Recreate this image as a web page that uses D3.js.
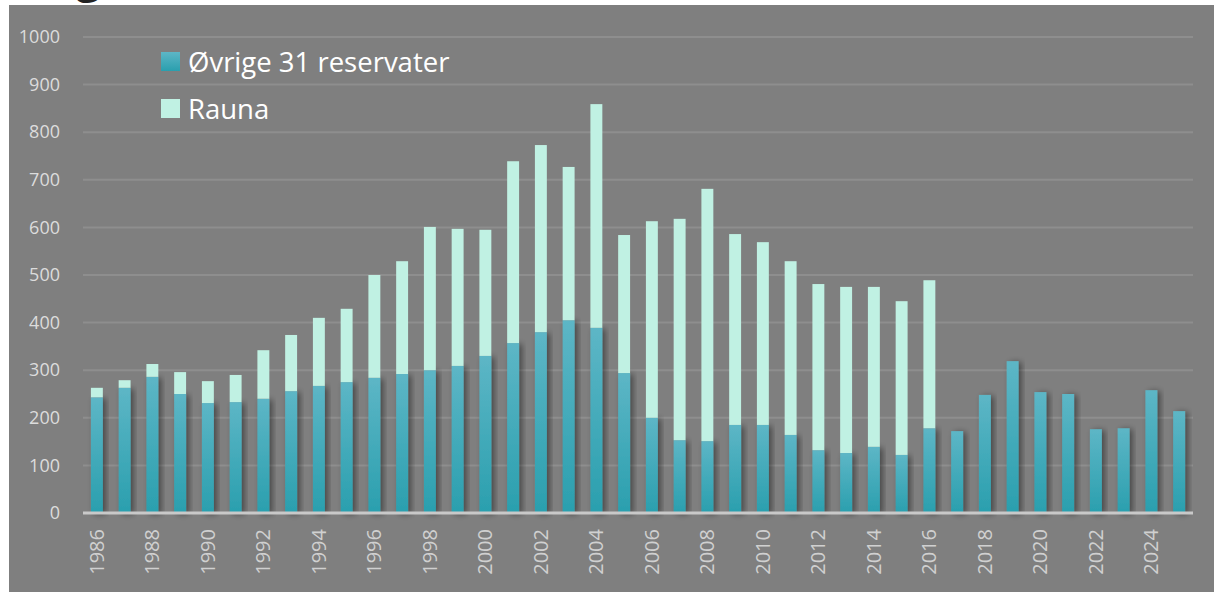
<!DOCTYPE html>
<html>
<head>
<meta charset="utf-8">
<script src="https://cdn.jsdelivr.net/npm/d3@7"></script>
<style>
  body { margin: 0; background: #fff; }
  svg { display: block; }
</style>
</head>
<body>
<svg id="chart" width="1214" height="592"></svg>
<script>
// years on the x axis
var years = d3.range(1986, 2026);

// lower stack: the other 31 reserves
var ovrige = [243, 263, 286, 250, 231, 233, 240, 256, 267, 275,
  284, 292, 300, 309, 330, 357, 380, 405, 389, 294,
  200, 153, 151, 185, 185, 164, 132, 126, 139, 122,
  178, 172, 248, 319, 254, 250, 176, 178, 258, 214];

// upper stack: Rauna (read as totals minus lower stack)
var totals = [263, 279, 313, 296, 277, 290, 342, 374, 410, 429,
  500, 529, 601, 597, 595, 739, 773, 727, 859, 584,
  613, 618, 681, 586, 569, 529, 481, 475, 475, 445,
  489, 172, 248, 319, 254, 250, 176, 178, 258, 214];
var rauna = totals.map(function (t, i) { return t - ovrige[i]; });

var yTicks = [0, 100, 200, 300, 400, 500, 600, 700, 800, 900, 1000];
var seriesNames = ["Øvrige 31 reservater", "Rauna"];

var svg = d3.select("#chart");
var font = "'Open Sans', 'Noto Sans', sans-serif";

// gray panel
svg.append("rect")
  .attr("x", 9).attr("y", 5)
  .attr("width", 1205).attr("height", 587)
  .attr("fill", "#7f7f7f");

// cut-off title descender at the very top
svg.append("text")
  .attr("x", 76).attr("y", -8)
  .attr("font-family", font)
  .attr("font-size", 44)
  .attr("font-weight", "bold")
  .attr("fill", "#222")
  .text("g");

var defs = svg.append("defs");
var grad = defs.append("linearGradient")
  .attr("id", "teal").attr("x1", 0).attr("y1", 0).attr("x2", 0).attr("y2", 1);
grad.append("stop").attr("offset", "0%").attr("stop-color", "#5db6c6");
grad.append("stop").attr("offset", "100%").attr("stop-color", "#2a9fae");

var shadow = defs.append("filter").attr("id", "shadow")
  .attr("x", "-50%").attr("y", "-10%").attr("width", "200%").attr("height", "120%");
shadow.append("feDropShadow")
  .attr("dx", 3).attr("dy", 1).attr("stdDeviation", 3)
  .attr("flood-color", "#000").attr("flood-opacity", 0.45);

var x = d3.scaleBand()
  .domain(years)
  .range([83, 1193])
  .paddingInner(0.57)
  .paddingOuter(0.285);

var y = d3.scaleLinear()
  .domain([0, 1000])
  .range([513, 37]);

// grid lines
svg.append("g")
  .selectAll("line")
  .data(yTicks.filter(function (d) { return d > 0; }))
  .enter().append("line")
  .attr("x1", 83).attr("x2", 1193)
  .attr("y1", function (d) { return y(d); })
  .attr("y2", function (d) { return y(d); })
  .attr("stroke", "#8e8e8e")
  .attr("stroke-width", 2);

// y axis labels
var yAxis = d3.axisLeft(y).tickValues(yTicks).tickFormat(d3.format("d")).tickSize(0).tickPadding(0);
svg.append("g")
  .attr("transform", "translate(60,0)")
  .call(yAxis)
  .call(function (g) {
    g.select(".domain").remove();
    g.selectAll("text")
      .attr("fill", "#dcdcdc")
      .attr("font-family", font)
      .attr("font-size", 18);
  });

// teal bars with shadow
svg.append("g")
  .selectAll("rect")
  .data(years)
  .enter().append("rect")
  .attr("x", function (d) { return x(d); })
  .attr("width", x.bandwidth())
  .attr("y", function (d, i) { return y(ovrige[i]); })
  .attr("height", function (d, i) { return y(0) - y(ovrige[i]); })
  .attr("fill", "url(#teal)")
  .attr("filter", "url(#shadow)");

// rauna bars on top
svg.append("g")
  .selectAll("rect")
  .data(years)
  .enter().append("rect")
  .attr("x", function (d) { return x(d); })
  .attr("width", x.bandwidth())
  .attr("y", function (d, i) { return y(ovrige[i] + rauna[i]); })
  .attr("height", function (d, i) { return y(ovrige[i]) - y(ovrige[i] + rauna[i]); })
  .attr("fill", "#c0f1e3");

// baseline
svg.append("line")
  .attr("x1", 83).attr("x2", 1193)
  .attr("y1", y(0)).attr("y2", y(0))
  .attr("stroke", "#c9c9c9")
  .attr("stroke-width", 3);

// x axis labels, every second year, rotated
var xAxis = d3.axisBottom(x)
  .tickValues(years.filter(function (d) { return (d - 1986) % 2 === 0; }))
  .tickSize(0);
svg.append("g")
  .attr("transform", "translate(0," + y(0) + ")")
  .call(xAxis)
  .call(function (g) {
    g.select(".domain").remove();
    g.selectAll("text")
      .attr("fill", "#d0d0d0")
      .attr("font-family", font)
      .attr("font-size", 20)
      .attr("text-anchor", "end")
      .attr("dy", "0.35em")
      .attr("transform", "translate(0,16) rotate(-90)")
      .attr("x", 0).attr("y", 0);
  });

// legend
var legendColors = ["url(#teal)", "#c0f1e3"];
var legend = svg.append("g")
  .selectAll("g")
  .data(seriesNames)
  .enter().append("g")
  .attr("transform", function (d, i) { return "translate(161," + (52 + i * 47) + ")"; });
legend.append("rect")
  .attr("width", 19).attr("height", 19)
  .attr("fill", function (d, i) { return legendColors[i]; });
legend.append("text")
  .attr("x", 27).attr("y", 10)
  .attr("dy", "0.35em")
  .attr("fill", "#ffffff")
  .attr("font-family", font)
  .attr("font-size", 27.5)
  .text(function (d) { return d; });
</script>
</body>
</html>
